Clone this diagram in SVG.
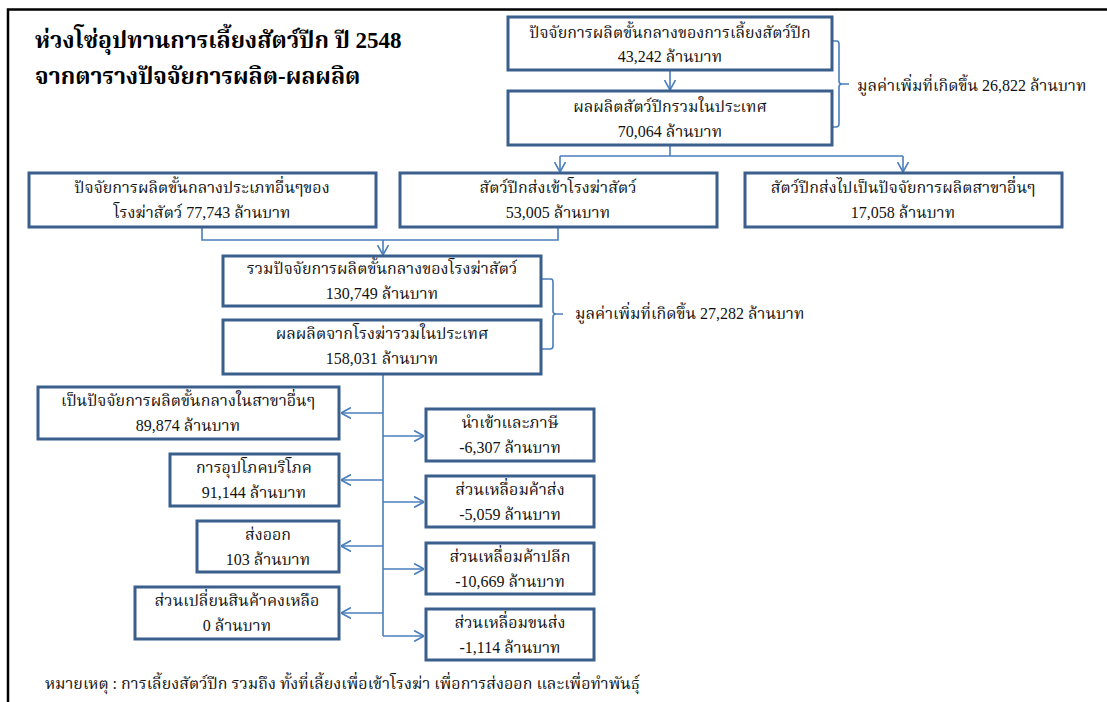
<svg xmlns="http://www.w3.org/2000/svg" width="1107" height="702" viewBox="0 0 1107 702">
  <defs>
    <marker id="arr" viewBox="0 0 10 12" refX="10" refY="6" markerWidth="10" markerHeight="12" markerUnits="userSpaceOnUse" orient="auto">
      <path d="M0,0.5 L10,6 L0,11.5" fill="none" stroke="#4a7ebb" stroke-width="1.6"/>
    </marker>
    <style>
      .box { fill: #ffffff; stroke: #3a5f8d; stroke-width: 3; }
      .t { font-family: "Liberation Serif", "Noto Serif Thai", "Noto Sans Thai", serif; font-size: 16px; fill: #111; text-anchor: middle; }
      .title { font-family: "Liberation Serif", "Noto Serif Thai", "Noto Sans Thai", serif; font-size: 23px; font-weight: bold; fill: #000; }
      .lbl { font-family: "Liberation Serif", "Noto Serif Thai", "Noto Sans Thai", serif; font-size: 16px; fill: #111; }
      .conn { fill: none; stroke: #4a7ebb; stroke-width: 1.6; }
      .brace { fill: none; stroke: #4a7ebb; stroke-width: 1.6; }
    </style>
  </defs>
  <rect width="1107" height="702" fill="#ffffff"/>

  <!-- frame: top and left rules -->
  <path d="M8,703 L8,9.5 L1108,9.5" fill="none" stroke="#000" stroke-width="2.5"/>

  <!-- heading -->
  <g id="heading">
    <text class="title" x="35" y="48">ห่วงโซ่อุปทานการเลี้ยงสัตว์ปีก ปี 2548</text>
    <text class="title" x="35" y="84">จากตารางปัจจัยการผลิต-ผลผลิต</text>
  </g>

  <!-- connectors -->
  <g id="connectors">
    <path class="conn" d="M670,70 L670,90" marker-end="url(#arr)"/>
    <path class="conn" d="M670,145 L670,156 M560,156 L903,156"/>
    <path class="conn" d="M560,156 L560,172" marker-end="url(#arr)"/>
    <path class="conn" d="M903,156 L903,172" marker-end="url(#arr)"/>
    <path class="conn" d="M202,227 L202,240 L558,240 L558,227"/>
    <path class="conn" d="M383,240 L383,255" marker-end="url(#arr)"/>
    <path class="conn" d="M383,374 L383,636"/>
    <path class="conn" d="M383,413 L341,413" marker-end="url(#arr)"/>
    <path class="conn" d="M383,480 L341,480" marker-end="url(#arr)"/>
    <path class="conn" d="M383,546 L341,546" marker-end="url(#arr)"/>
    <path class="conn" d="M383,613 L341,613" marker-end="url(#arr)"/>
    <path class="conn" d="M383,436 L424,436" marker-end="url(#arr)"/>
    <path class="conn" d="M383,502 L424,502" marker-end="url(#arr)"/>
    <path class="conn" d="M383,569 L424,569" marker-end="url(#arr)"/>
    <path class="conn" d="M383,636 L424,636" marker-end="url(#arr)"/>
    <!-- value-added braces -->
    <path class="brace" d="M832,41 L837,41 Q839,41 839,44 L839,81 Q839,84 842,84 L849,84 M842,84 Q839,84 839,87 L839,124 Q839,127 836,127 L832,127"/>
    <path class="brace" d="M541,279 L551,279 Q553,279 553,282 L553,311 Q553,314 556,314 L563,314 M556,314 Q553,314 553,317 L553,346 Q553,349 550,349 L541,349"/>
  </g>

  <g id="n-poultry-input">
    <rect class="box" x="508" y="17" width="324" height="53"/>
    <text class="t" x="670" y="38">ปัจจัยการผลิตขั้นกลางของการเลี้ยงสัตว์ปีก</text>
    <text class="t" x="670" y="62">43,242 ล้านบาท</text>
  </g>
  <g id="n-poultry-output">
    <rect class="box" x="508" y="91" width="324" height="54"/>
    <text class="t" x="670" y="112">ผลผลิตสัตว์ปีกรวมในประเทศ</text>
    <text class="t" x="670" y="137">70,064 ล้านบาท</text>
  </g>
  <g id="n-va1">
    <text class="lbl" x="857" y="91">มูลค่าเพิ่มที่เกิดขึ้น 26,822 ล้านบาท</text>
  </g>

  <g id="n-other-inputs">
    <rect class="box" x="29" y="173" width="347" height="54"/>
    <text class="t" x="202" y="193">ปัจจัยการผลิตขั้นกลางประเภทอื่นๆของ</text>
    <text class="t" x="202" y="218">โรงฆ่าสัตว์ 77,743 ล้านบาท</text>
  </g>
  <g id="n-to-slaughter">
    <rect class="box" x="400" y="173" width="317" height="54"/>
    <text class="t" x="558" y="193">สัตว์ปีกส่งเข้าโรงฆ่าสัตว์</text>
    <text class="t" x="558" y="218">53,005 ล้านบาท</text>
  </g>
  <g id="n-to-other">
    <rect class="box" x="745" y="173" width="317" height="54"/>
    <text class="t" x="903" y="193">สัตว์ปีกส่งไปเป็นปัจจัยการผลิตสาขาอื่นๆ</text>
    <text class="t" x="903" y="218">17,058 ล้านบาท</text>
  </g>

  <g id="n-slaughter-input">
    <rect class="box" x="223" y="256" width="318" height="50"/>
    <text class="t" x="382" y="274">รวมปัจจัยการผลิตขั้นกลางของโรงฆ่าสัตว์</text>
    <text class="t" x="382" y="299">130,749 ล้านบาท</text>
  </g>
  <g id="n-slaughter-output">
    <rect class="box" x="223" y="320" width="318" height="54"/>
    <text class="t" x="382" y="339">ผลผลิตจากโรงฆ่ารวมในประเทศ</text>
    <text class="t" x="382" y="364">158,031 ล้านบาท</text>
  </g>
  <g id="n-va2">
    <text class="lbl" x="575" y="319">มูลค่าเพิ่มที่เกิดขึ้น 27,282 ล้านบาท</text>
  </g>

  <g id="n-intermediate">
    <rect class="box" x="38" y="387" width="301" height="52"/>
    <text class="t" x="188" y="406">เป็นปัจจัยการผลิตขั้นกลางในสาขาอื่นๆ</text>
    <text class="t" x="188" y="431">89,874 ล้านบาท</text>
  </g>
  <g id="n-consumption">
    <rect class="box" x="170" y="454" width="169" height="52"/>
    <text class="t" x="254" y="473">การอุปโภคบริโภค</text>
    <text class="t" x="254" y="498">91,144 ล้านบาท</text>
  </g>
  <g id="n-export">
    <rect class="box" x="197" y="521" width="142" height="51"/>
    <text class="t" x="268" y="540">ส่งออก</text>
    <text class="t" x="268" y="565">103 ล้านบาท</text>
  </g>
  <g id="n-stock">
    <rect class="box" x="135" y="587" width="204" height="52"/>
    <text class="t" x="237" y="606">ส่วนเปลี่ยนสินค้าคงเหลือ</text>
    <text class="t" x="237" y="631">0 ล้านบาท</text>
  </g>

  <g id="n-import-tax">
    <rect class="box" x="426" y="409" width="168" height="52"/>
    <text class="t" x="510" y="428">นำเข้าและภาษี</text>
    <text class="t" x="510" y="453">-6,307 ล้านบาท</text>
  </g>
  <g id="n-wholesale">
    <rect class="box" x="426" y="476" width="168" height="51"/>
    <text class="t" x="510" y="495">ส่วนเหลื่อมค้าส่ง</text>
    <text class="t" x="510" y="520">-5,059 ล้านบาท</text>
  </g>
  <g id="n-retail">
    <rect class="box" x="426" y="543" width="168" height="51"/>
    <text class="t" x="510" y="562">ส่วนเหลื่อมค้าปลีก</text>
    <text class="t" x="510" y="587">-10,669 ล้านบาท</text>
  </g>
  <g id="n-transport">
    <rect class="box" x="426" y="609" width="168" height="51"/>
    <text class="t" x="510" y="628">ส่วนเหลื่อมขนส่ง</text>
    <text class="t" x="510" y="653">-1,114 ล้านบาท</text>
  </g>

  <g id="note">
    <text class="lbl" x="45" y="689">หมายเหตุ : การเลี้ยงสัตว์ปีก รวมถึง ทั้งที่เลี้ยงเพื่อเข้าโรงฆ่า เพื่อการส่งออก และเพื่อทำพันธุ์</text>
  </g>
</svg>
